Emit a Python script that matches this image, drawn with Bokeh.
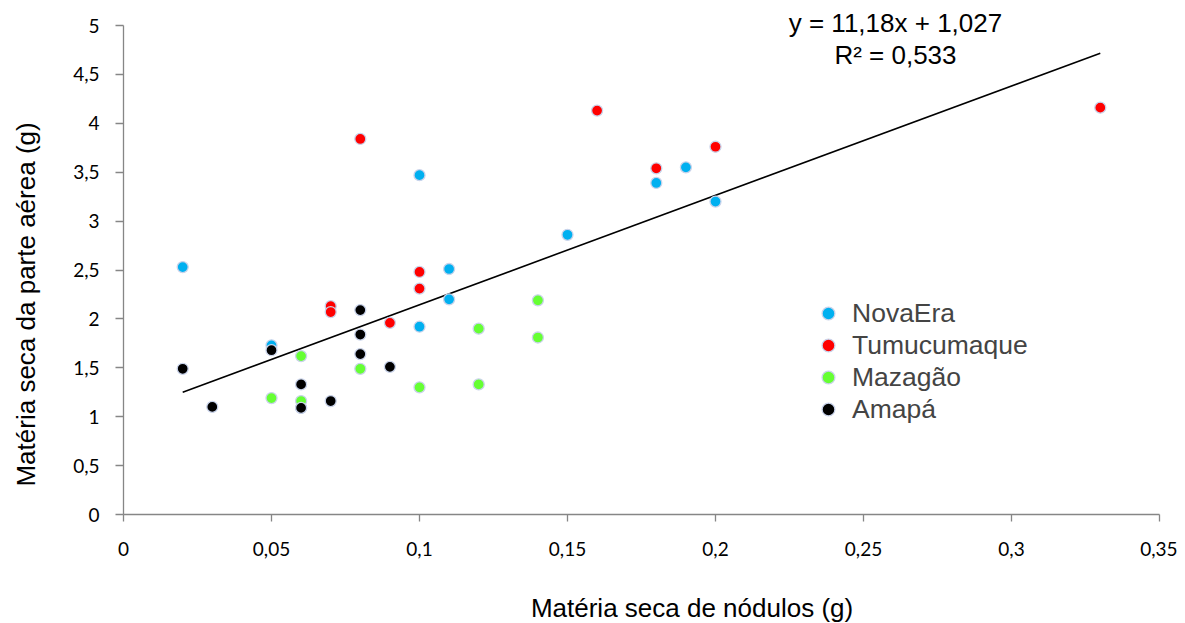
from bokeh.plotting import figure
from bokeh.models import Range1d, Label, Legend, LegendItem, FixedTicker
from bokeh.embed import file_html
from bokeh.resources import INLINE

# Data
nova_x = [0.02, 0.05, 0.06, 0.10, 0.10, 0.11, 0.11, 0.15, 0.18, 0.19, 0.20]
nova_y = [2.53, 1.73, 1.09, 3.47, 1.92, 2.51, 2.20, 2.86, 3.39, 3.55, 3.20]

tumu_x = [0.07, 0.07, 0.08, 0.09, 0.10, 0.10, 0.16, 0.18, 0.20, 0.33]
tumu_y = [2.13, 2.07, 3.84, 1.96, 2.48, 2.31, 4.13, 3.54, 3.76, 4.16]

maza_x = [0.05, 0.06, 0.06, 0.08, 0.10, 0.12, 0.12, 0.14, 0.14]
maza_y = [1.19, 1.62, 1.16, 1.49, 1.30, 1.90, 1.33, 2.19, 1.81]

amapa_x = [0.02, 0.03, 0.05, 0.06, 0.06, 0.07, 0.08, 0.08, 0.08, 0.09]
amapa_y = [1.49, 1.10, 1.68, 1.33, 1.09, 1.16, 2.09, 1.84, 1.64, 1.51]

series_names = ["NovaEra", "Tumucumaque", "Mazagão", "Amapá"]
series_colors = ["#00b0f0", "#ff0000", "#66ff33", "#000000"]

slope = 11.18
intercept = 1.027
trend_x = [0.02, 0.33]
equation = "y = 11,18x + 1,027"
r2_text = "R² = 0,533"

x_title = "Matéria seca de nódulos (g)"
y_title = "Matéria seca da parte aérea (g)"

x_ticks = [0, 0.05, 0.1, 0.15, 0.2, 0.25, 0.3, 0.35]
x_tick_labels = ["0", "0,05", "0,1", "0,15", "0,2", "0,25", "0,3", "0,35"]
y_ticks = [0, 0.5, 1, 1.5, 2, 2.5, 3, 3.5, 4, 4.5, 5]
y_tick_labels = ["0", "0,5", "1", "1,5", "2", "2,5", "3", "3,5", "4", "4,5", "5"]

px_per_y = 489 / 5.0
p = figure(frame_width=1036, frame_height=514, output_backend="svg", toolbar_location=None,
           x_range=Range1d(0, 0.35), y_range=Range1d(0, 5 + 25 / px_per_y),
           min_border_left=123, min_border_right=18, min_border_top=0, min_border_bottom=109)
p.outline_line_color = None
p.grid.grid_line_color = None
p.background_fill_color = "white"
p.border_fill_color = "white"

tick_font = "Lato"
for ax in (p.xaxis[0], p.yaxis[0]):
    ax.axis_line_color = "#868686"
    ax.axis_line_width = 1.3
    ax.major_tick_line_color = "#868686"
    ax.major_tick_line_width = 1.3
    ax.minor_tick_line_color = None
    ax.major_tick_in = 0
    ax.major_label_text_font = tick_font
    ax.major_label_text_font_size = "19px"
    ax.major_label_text_color = "#000000"
    ax.axis_label_text_font = "Liberation Sans"
    ax.axis_label_text_font_size = "26px"
    ax.axis_label_text_font_style = "normal"
    ax.axis_label_text_color = "#000000"

NBSP = "\u00a0"
p.xaxis.major_tick_out = 7
p.yaxis.major_tick_out = 8
p.yaxis.bounds = (0, 5)
p.xaxis.ticker = FixedTicker(ticks=x_ticks)
p.xaxis.major_label_overrides = {t: l for t, l in zip(x_ticks, x_tick_labels)}
p.yaxis.ticker = FixedTicker(ticks=y_ticks)
p.yaxis.major_label_overrides = {t: l for t, l in zip(y_ticks, y_tick_labels)}
# non-breaking-space padding shifts the (centred) titles to where the reference has them
p.xaxis.axis_label = NBSP * 14 + x_title
p.yaxis.axis_label = y_title + NBSP * 13
p.xaxis.major_label_standoff = 20
p.xaxis.axis_label_standoff = 34
p.yaxis.major_label_standoff = 16
p.yaxis.axis_label_standoff = 29

# Trend line
trend_y = [slope * x + intercept for x in trend_x]
p.line(trend_x, trend_y, line_color="black", line_width=1.6)

renderers = []
for xs, ys, c in zip([nova_x, tumu_x, maza_x, amapa_x], [nova_y, tumu_y, maza_y, amapa_y], series_colors):
    r = p.scatter(xs, ys, size=11, fill_color=c, line_color="#c9d3ea", line_width=1.3)
    renderers.append(r)

legend = Legend(items=[LegendItem(label=n, renderers=[r]) for n, r in zip(series_names, renderers)],
                location=(689, 89), padding=0, margin=0, spacing=0,
                label_height=32, glyph_height=32, glyph_width=32, label_standoff=8,
                label_text_font="Liberation Sans", label_text_font_size="26.5px",
                background_fill_alpha=0, border_line_color=None)
p.add_layout(legend)

eq_x = 0.2608
p.add_layout(Label(x=eq_x, y=5 + 3 / px_per_y, text=equation, text_align="center", text_baseline="middle",
                   text_font="Liberation Sans", text_font_size="26px", text_color="black"))
p.add_layout(Label(x=eq_x, y=5 - 29 / px_per_y, text=r2_text, text_align="center", text_baseline="middle",
                   text_font="Liberation Sans", text_font_size="26px", text_color="black"))

open("out.html", "w").write(file_html(p, INLINE))
